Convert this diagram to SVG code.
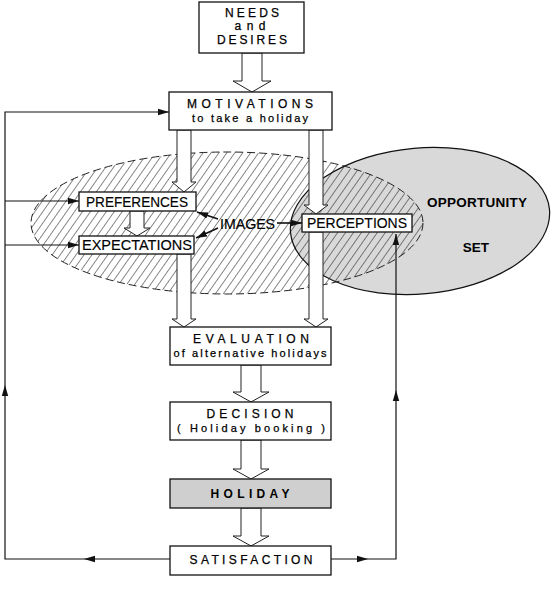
<svg xmlns="http://www.w3.org/2000/svg" width="552" height="594" viewBox="0 0 552 594">
<style>
.box{fill:#fff;stroke:#111;stroke-width:1.3}
.hol{fill:#cfcfcf;stroke:#111;stroke-width:1.3}
.ha{fill:#fff;stroke:#222;stroke-width:1}
.ln{fill:none;stroke:#111;stroke-width:1.2}
.img{fill:none;stroke:#111;stroke-width:1.6}
.t{font-family:"Liberation Sans",Arial,sans-serif;fill:#000;stroke:#000;stroke-width:0.25;text-anchor:middle}
.cap{font-size:12px}
.sub{font-size:11px}
.lab{font-size:14px;stroke-width:0.15}
.b{font-weight:bold;stroke-width:0}
</style>
<defs>
<pattern id="hatch" patternUnits="userSpaceOnUse" width="6.5" height="6.5" patternTransform="rotate(35)">
<line x1="0" y1="0" x2="0" y2="6.5" stroke="#111" stroke-width="1"/>
</pattern>
<marker id="ah" markerUnits="userSpaceOnUse" markerWidth="12" markerHeight="8" refX="11" refY="4" orient="auto">
<path d="M0,0.8 L11,4 L0,7.2 Z" fill="#111"/>
</marker>
</defs>

<g id="opportunity-set">
<ellipse cx="420" cy="221" rx="130" ry="73" transform="rotate(-5 420 221)" fill="#d9d9d9" stroke="#111" stroke-width="1.2"/>
<text class="t b" x="477" y="207" font-size="13.5" textLength="100" lengthAdjust="spacing">OPPORTUNITY</text>
<text class="t b" x="476" y="252" font-size="13.5">SET</text>
</g>

<g id="images-field">
<ellipse cx="227" cy="223" rx="196" ry="71" fill="url(#hatch)" stroke="#222" stroke-width="1" stroke-dasharray="8 4"/>
</g>

<g id="connectors">
<path class="ln" d="M170,559 L84,559" marker-end="url(#ah)"/>
<path class="ln" d="M84,559 L5,559 L5,385" marker-end="url(#ah)"/>
<path class="ln" d="M5,385 L5,112 L169,112" marker-end="url(#ah)"/>
<path class="ln" d="M5,201 L79,201" marker-end="url(#ah)"/>
<path class="ln" d="M5,245 L79,245" marker-end="url(#ah)"/>
<path class="ln" d="M331,559 L368,559" marker-end="url(#ah)"/>
<path class="ln" d="M368,559 L396,559 L396,390" marker-end="url(#ah)"/>
<path class="ln" d="M396,390 L396,234" marker-end="url(#ah)"/>
<path class="img" d="M218,219 L197,212" marker-end="url(#ah)"/>
<path class="img" d="M218,228 L196,238" marker-end="url(#ah)"/>
<path class="img" d="M277,223 L302,223" marker-end="url(#ah)"/>
<polygon class="ha" points="242,53 262,53 262,81 271,81 252,92 233,81 242,81"/>
<polygon class="ha" points="177,130 191,130 191,182 196,182 184,192 172,182 177,182"/>
<polygon class="ha" points="309,130 323,130 323,205 328,205 316,214 304,205 309,205"/>
<polygon class="ha" points="130,211 144,211 144,228 150,228 137,236 124,228 130,228"/>
<polygon class="ha" points="177,254 191,254 191,319 196,319 184,327 172,319 177,319"/>
<polygon class="ha" points="309,232 323,232 323,319 328,319 316,327 304,319 309,319"/>
<polygon class="ha" points="241,365 261,365 261,392 269,392 251,402 233,392 241,392"/>
<polygon class="ha" points="241,440 261,440 261,469 269,469 251,479 233,469 241,469"/>
<polygon class="ha" points="241,508 261,508 261,536 269,536 251,546 233,536 241,536"/>
</g>

<g id="needs">
<rect class="box" x="199" y="2" width="105" height="51"/>
<text class="t cap" x="252" y="17" textLength="54" lengthAdjust="spacing">NEEDS</text>
<text class="t cap" x="250" y="30" textLength="31" lengthAdjust="spacing">and</text>
<text class="t cap" x="252" y="44" textLength="70" lengthAdjust="spacing">DESIRES</text>
</g>

<g id="motivations">
<rect class="box" x="169" y="92" width="163" height="38"/>
<text class="t cap" x="250" y="108" textLength="126" lengthAdjust="spacing">MOTIVATIONS</text>
<text class="t sub" x="250" y="122" textLength="116" lengthAdjust="spacing">to take a holiday</text>
</g>

<g id="preferences">
<rect class="box" x="79" y="192" width="117" height="19"/>
<text class="t lab" x="137" y="206.5" textLength="102" lengthAdjust="spacingAndGlyphs">PREFERENCES</text>
</g>

<g id="expectations">
<rect class="box" x="79" y="236" width="115" height="18"/>
<text class="t lab" x="137" y="250" textLength="110" lengthAdjust="spacingAndGlyphs">EXPECTATIONS</text>
</g>

<g id="images">
<text class="t lab" x="247.5" y="229" textLength="55" lengthAdjust="spacingAndGlyphs">IMAGES</text>
</g>

<g id="perceptions">
<rect class="box" x="302" y="214" width="110" height="18"/>
<text class="t lab" x="357" y="228" textLength="100" lengthAdjust="spacingAndGlyphs">PERCEPTIONS</text>
</g>

<g id="evaluation">
<rect class="box" x="170" y="327" width="161" height="38"/>
<text class="t cap" x="251" y="343" textLength="116" lengthAdjust="spacing">EVALUATION</text>
<text class="t sub" x="250" y="357" textLength="153" lengthAdjust="spacing">of alternative holidays</text>
</g>

<g id="decision">
<rect class="box" x="170" y="402" width="161" height="38"/>
<text class="t cap" x="250" y="418" textLength="87" lengthAdjust="spacing">DECISION</text>
<text class="t sub" x="251" y="432" textLength="148" lengthAdjust="spacing">( Holiday booking )</text>
</g>

<g id="holiday">
<rect class="hol" x="170" y="479" width="161" height="29"/>
<text class="t cap b" x="250" y="497.5" textLength="79" lengthAdjust="spacing">HOLIDAY</text>
</g>

<g id="satisfaction">
<rect class="box" x="170" y="546" width="161" height="29"/>
<text class="t cap" x="251" y="564" textLength="123" lengthAdjust="spacing">SATISFACTION</text>
</g>
</svg>
